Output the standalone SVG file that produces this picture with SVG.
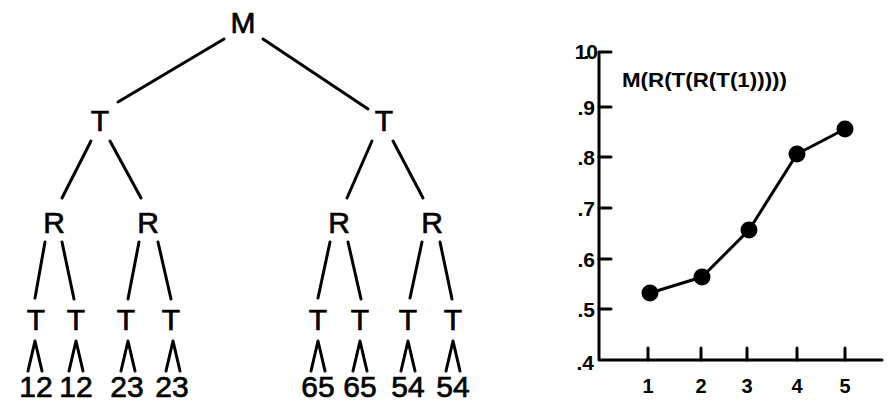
<svg xmlns="http://www.w3.org/2000/svg" width="889" height="405" viewBox="0 0 889 405">
<style>
.n{font-family:"Liberation Sans",Arial,sans-serif;font-size:30px;fill:#000;stroke:#000;stroke-width:0.7;text-anchor:middle}
.c{stroke:#000;stroke-width:3;fill:none;stroke-linecap:round;stroke-linejoin:round}
.ax{font-family:"Liberation Sans",Arial,sans-serif;font-size:21px;font-weight:bold;fill:#000}
.xl{font-family:"Liberation Sans",Arial,sans-serif;font-size:20px;font-weight:bold;fill:#000;text-anchor:middle}
</style>
<rect width="889" height="405" fill="#fff"/>
<g id="connectors" class="c">
<line x1="224" y1="39" x2="118" y2="102"/>
<line x1="263" y1="39" x2="368" y2="109"/>
<line x1="91" y1="141" x2="62" y2="198"/>
<line x1="110" y1="141" x2="141" y2="198"/>
<line x1="372" y1="141" x2="347" y2="198"/>
<line x1="393" y1="141" x2="423" y2="198"/>
<line x1="45" y1="242" x2="35" y2="298"/>
<line x1="62" y1="242" x2="74" y2="299"/>
<line x1="139" y1="242" x2="128" y2="299"/>
<line x1="158" y1="242" x2="171" y2="299"/>
<line x1="330" y1="242" x2="318" y2="298"/>
<line x1="348" y1="242" x2="361" y2="299"/>
<line x1="422" y1="242" x2="410" y2="298"/>
<line x1="440" y1="242" x2="452" y2="299"/>
<polyline points="28,371 35,341 42,371"/>
<polyline points="69,371 76,341 83,371"/>
<polyline points="121,371 128,341 135,371"/>
<polyline points="166,371 173,341 180,371"/>
<polyline points="311,371 318,341 325,371"/>
<polyline points="353,371 360,341 367,371"/>
<polyline points="401,371 408,341 415,371"/>
<polyline points="446,371 453,341 460,371"/>
</g>
<g id="node-M"><text class="n" x="243" y="33">M</text></g>
<g id="node-T-left"><text class="n" x="100" y="131">T</text></g>
<g id="node-T-right"><text class="n" x="384" y="131">T</text></g>
<g id="node-R1"><text class="n" x="54" y="233">R</text></g>
<g id="node-R2"><text class="n" x="148" y="233">R</text></g>
<g id="node-R3"><text class="n" x="339" y="233">R</text></g>
<g id="node-R4"><text class="n" x="432" y="233">R</text></g>
<g id="node-T1"><text class="n" x="36" y="330">T</text></g>
<g id="node-T2"><text class="n" x="76" y="330">T</text></g>
<g id="node-T3"><text class="n" x="126" y="330">T</text></g>
<g id="node-T4"><text class="n" x="171" y="330">T</text></g>
<g id="node-T5"><text class="n" x="318" y="330">T</text></g>
<g id="node-T6"><text class="n" x="360" y="330">T</text></g>
<g id="node-T7"><text class="n" x="408" y="330">T</text></g>
<g id="node-T8"><text class="n" x="453" y="330">T</text></g>
<g id="leaf-1"><text class="n" x="36" y="397">12</text></g>
<g id="leaf-2"><text class="n" x="76" y="397">12</text></g>
<g id="leaf-3"><text class="n" x="127" y="397">23</text></g>
<g id="leaf-4"><text class="n" x="172" y="397">23</text></g>
<g id="leaf-5"><text class="n" x="318" y="397">65</text></g>
<g id="leaf-6"><text class="n" x="360" y="397">65</text></g>
<g id="leaf-7"><text class="n" x="408" y="397">54</text></g>
<g id="leaf-8"><text class="n" x="453" y="397">54</text></g>
<g id="chart">
<g class="c">
<polyline points="611,52 599,52 599,360 882,360"/>
<line x1="599" y1="107" x2="611" y2="107"/>
<line x1="599" y1="157" x2="611" y2="157"/>
<line x1="599" y1="208" x2="611" y2="208"/>
<line x1="599" y1="259" x2="611" y2="259"/>
<line x1="599" y1="309" x2="611" y2="309"/>
<line x1="648" y1="348" x2="648" y2="360"/>
<line x1="701" y1="348" x2="701" y2="360"/>
<line x1="747" y1="348" x2="747" y2="360"/>
<line x1="797" y1="348" x2="797" y2="360"/>
<line x1="845" y1="348" x2="845" y2="360"/>
<polyline points="650,293 702,277 749,230 797,154 845,129"/>
</g>
<g fill="#000">
<circle cx="650" cy="293" r="8.5"/>
<circle cx="702" cy="277" r="8.5"/>
<circle cx="749" cy="230" r="8.5"/>
<circle cx="797" cy="154" r="8.5"/>
<circle cx="845" cy="129" r="8.5"/>
</g>
<g text-anchor="end">
<text class="ax" x="595" y="59" letter-spacing="-3">1.0</text>
<text class="ax" x="595" y="115">.9</text>
<text class="ax" x="595" y="165">.8</text>
<text class="ax" x="595" y="216">.7</text>
<text class="ax" x="595" y="267">.6</text>
<text class="ax" x="595" y="317">.5</text>
<text class="ax" x="594" y="370">.4</text>
</g>
<text class="xl" x="648" y="393">1</text>
<text class="xl" x="701" y="393">2</text>
<text class="xl" x="747" y="393">3</text>
<text class="xl" x="797" y="393">4</text>
<text class="xl" x="845" y="393">5</text>
<text x="622" y="87" font-family="Liberation Sans, Arial, sans-serif" font-size="20" font-weight="bold" textLength="165" lengthAdjust="spacingAndGlyphs">M(R(T(R(T(1)))))</text>
</g>
</svg>
